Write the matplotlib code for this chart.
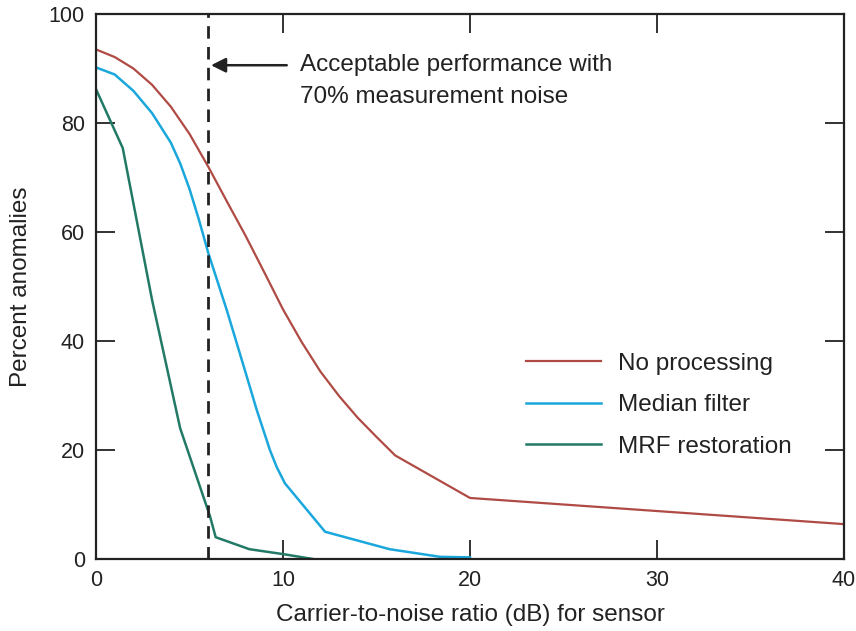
import matplotlib
matplotlib.use("Agg")
import matplotlib.pyplot as plt

plt.rcParams['font.family'] = ['Liberation Sans', 'DejaVu Sans']

# Data
x_none = [0, 1, 2, 3, 4, 5, 6, 7, 8, 9, 10, 11, 12, 13, 14, 15, 16, 20, 40]
y_none = [93.5, 92.1, 90.0, 87.0, 83.0, 78.0, 72.0, 65.6, 59.3, 52.6, 45.8, 39.8, 34.4, 29.9, 25.9, 22.4, 19.0, 11.2, 6.4]

x_median = [0, 1, 2, 3, 4, 4.5, 5, 5.5, 6, 7, 8, 8.6, 9.3, 9.66, 10.1, 12.25, 15.7, 18.4, 20]
y_median = [90.2, 88.9, 85.9, 81.8, 76.4, 72.6, 67.9, 62.3, 56.2, 45.6, 34.2, 27.3, 20.0, 16.9, 13.9, 5.0, 1.8, 0.4, 0.3]

x_mrf = [0, 1.43, 3.0, 4.5, 6.1, 6.4, 8.2, 10.0, 11.6]
y_mrf = [86.2, 75.4, 47.5, 24.0, 7.8, 4.0, 1.8, 0.9, 0.0]

labels = ["No processing", "Median filter", "MRF restoration"]
colors = ["#b04a44", "#1aa7dc", "#227a66"]
x_threshold = 6

fig = plt.figure(figsize=(8.56, 6.31), dpi=100)
ax = fig.add_axes([96/856, 72/631, 748/856, 545/631])

ax.plot(x_none, y_none, color=colors[0], lw=1.6, label=labels[0])
ax.plot(x_median, y_median, color=colors[1], lw=1.8, label=labels[1])
ax.plot(x_mrf, y_mrf, color=colors[2], lw=1.8, label=labels[2])

ax.axvline(x_threshold, color="#222222", lw=2.0, ls=(0, (4.5, 3)))

ax.set_xlim(0, 40)
ax.set_ylim(0, 100)
ax.set_xticks([0, 10, 20, 30, 40])
ax.set_yticks([0, 20, 40, 60, 80, 100])
ax.tick_params(direction='in', length=14, width=1.3, labelsize=15.5,
               top=True, right=True, colors="#222222", labelcolor="#222222", pad=8)
for s in ax.spines.values():
    s.set_linewidth(1.6)
    s.set_color("#222222")

ax.set_xlabel("Carrier-to-noise ratio (dB) for sensor", fontsize=17.5, color="#222222", labelpad=9)
ax.set_ylabel("Percent anomalies", fontsize=17.5, color="#222222", labelpad=12)

ax.annotate("", xy=(x_threshold + 0.15, 90.6), xytext=(10.2, 90.6),
            arrowprops=dict(arrowstyle="-|>", color="#222222", lw=1.8,
                            mutation_scale=22, shrinkA=0, shrinkB=0))
ax.text(10.9, 90.6, "Acceptable performance with", fontsize=17.5, color="#222222",
        va="center", ha="left")
ax.text(10.9, 84.7, "70% measurement noise", fontsize=17.5, color="#222222",
        va="center", ha="left")

leg = ax.legend(loc="upper left", bbox_to_anchor=(0.575, 0.378), frameon=False,
                fontsize=17.5, handlelength=3.1, handletextpad=0.68,
                labelspacing=0.8, borderpad=0, borderaxespad=0)
for t in leg.get_texts():
    t.set_color("#222222")

fig.savefig("out.png", dpi=100)
